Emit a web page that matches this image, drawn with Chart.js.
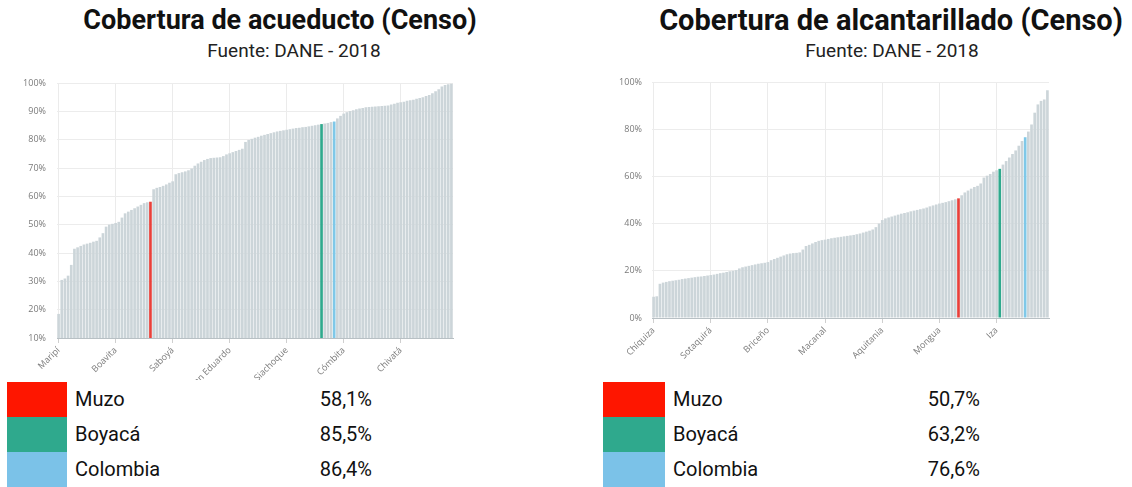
<!DOCTYPE html>
<html>
<head>
<meta charset="utf-8">
<script src="https://cdn.jsdelivr.net/npm/chart.js@4"></script>
<style>
    body { margin: 0; background: #fff; font-family: Roboto, "Noto Sans", sans-serif; width: 1132px; height: 487px; overflow: hidden; position: relative; }
    .title { position: absolute; top: 4px; font-size: 27px; font-weight: bold; color: #111; white-space: nowrap; transform: translateX(-50%); }
    .sub { position: absolute; top: 39px; font-size: 19px; color: #222; white-space: nowrap; transform: translateX(-50%); }
    canvas { position: absolute; }
    .legend { position: absolute; top: 380px; height: 107px; background: #fff; z-index: 2; }
    .sw { position: absolute; height: 35px; }
    .name, .val { position: absolute; height: 35px; line-height: 35px; font-size: 20px; color: #111; white-space: nowrap; }
    .val { text-align: right; }
</style>
</head>
<body>
<div class="title" style="left:280px">Cobertura de acueducto (Censo)</div>
<div class="sub" style="left:294px">Fuente: DANE - 2018</div>
<div class="title" style="left:891px;font-size:29px;top:3px">Cobertura de alcantarillado (Censo)</div>
<div class="sub" style="left:892px">Fuente: DANE - 2018</div>

<canvas id="acu-chart" width="470" height="330" style="left:0px;top:60px"></canvas>
<canvas id="alc-chart" width="480" height="330" style="left:590px;top:60px"></canvas>

<div class="legend" id="acu-legend" style="left:0px;width:560px"></div>
<div class="legend" id="alc-legend" style="left:590px;width:542px"></div>

<script>
// municipios de Boyacá ordenados por cobertura (+ Boyacá y Colombia)
const acuValues = [
    18.5, 30.5, 31, 32, 35.8, 41.5, 42, 42.5, 43, 43.3,
    43.6, 44, 44.3, 45.5, 47, 49.3, 50, 50.3, 50.6, 51,
    52.5, 54, 54.6, 55.2, 55.8, 56.4, 57, 57.6, 57.9, 58.1,
    62.5, 63, 63.3, 63.7, 64.2, 64.8, 65.3, 67.8, 68.2, 68.5,
    68.8, 69.2, 69.8, 70.8, 71.6, 72.2, 72.8, 73.2, 73.5, 73.6,
    73.7, 73.8, 74.2, 74.8, 75.2, 75.6, 76, 76.4, 76.8, 79.2,
    79.9, 80.3, 80.7, 81, 81.4, 81.7, 82, 82.3, 82.6, 82.9,
    83.1, 83.3, 83.5, 83.7, 83.9, 84.1, 84.2, 84.4, 84.5, 84.7,
    84.9, 85.1, 85.3, 85.5, 85.7, 85.9, 86.2, 86.4, 87.5, 88.4,
    89.2, 89.7, 90.1, 90.4, 90.7, 91, 91.2, 91.4, 91.5, 91.6,
    91.7, 91.8, 91.9, 92, 92.1, 92.4, 92.7, 93, 93.2, 93.4,
    93.7, 93.9, 94.1, 94.4, 94.7, 95, 95.4, 95.8, 96.4, 97.1,
    97.8, 98.8, 99.3, 99.6, 99.7
];
const alcValues = [
    9, 9.2, 14.5, 15, 15.3, 15.6, 15.8, 16, 16.2, 16.5,
    16.7, 16.9, 17.1, 17.3, 17.5, 17.6, 17.8, 18, 18.2, 18.4,
    18.7, 19, 19.2, 19.5, 19.8, 20, 20.3, 21, 21.5, 21.8,
    22.1, 22.4, 22.7, 23, 23.2, 23.4, 23.7, 24.5, 25, 25.5,
    26, 26.5, 27, 27.3, 27.5, 27.6, 27.8, 29, 30.5, 31,
    31.6, 32.2, 32.7, 33, 33.2, 33.5, 33.8, 34, 34.2, 34.4,
    34.6, 34.8, 35, 35.2, 35.5, 35.8, 36.2, 36.6, 37, 37.5,
    38.5, 40, 41.5, 42.2, 42.6, 43, 43.4, 43.8, 44.2, 44.5,
    44.8, 45.2, 45.5, 45.8, 46.1, 46.4, 46.8, 47.3, 47.7, 48.1,
    48.5, 48.8, 49.1, 49.5, 49.9, 50.3, 50.7, 52, 53.2, 54,
    54.8, 55.5, 56, 57, 59.5, 60.3, 61, 62, 62.6, 63.2,
    65, 66.5, 68, 69.5, 71, 73, 75, 76.6, 79, 82,
    87, 90.5, 92, 92.6, 96.5
];

const acuTickNames = ["Maripí", "Boavita", "Saboyá", "San Eduardo", "Siachoque", "Cómbita", "Chivatá"];
const alcTickNames = ["Chíquiza", "Sotaquirá", "Briceño", "Macanal", "Aquitania", "Mongua", "Iza"];
const tickEvery = 18;

const legendNames = ["Muzo", "Boyacá", "Colombia"];
const acuLegendValues = [58.1, 85.5, 86.4];
const alcLegendValues = [50.7, 63.2, 76.6];
const legendColors = ["#fe1600", "#2fa98d", "#7bc2e8"];
const barHighlightColors = ["#e8403a", "#2fa98d", "#7fc8e8"];

// posición de Muzo / Boyacá / Colombia dentro del orden
const acuHighlight = [29, 83, 87];
const alcHighlight = [96, 109, 117];

const barGray = "#ccd5d9";

function makeChart(id, values, tickNames, highlight, yMin, yMax, yStep, layout) {
    const labels = values.map((v, i) => i % tickEvery === 0 ? tickNames[i / tickEvery] : "");
    const ctx = document.getElementById(id).getContext("2d");
    return new Chart(ctx, {
        type: "bar",
        data: {
            labels: labels,
            datasets: [{
                data: values,
                backgroundColor: c => {
                    const k = highlight.indexOf(c.dataIndex);
                    return k >= 0 ? barHighlightColors[k] : barGray;
                },
                barPercentage: 1,
                categoryPercentage: 0.84
            }]
        },
        options: {
            responsive: false,
            animation: false,
            devicePixelRatio: 1,
            layout: { padding: layout.padding },
            plugins: { legend: { display: false }, tooltip: { enabled: false } },
            scales: {
                x: {
                    offset: true,
                    afterFit: s => { s.height = layout.xHeight; },
                    afterBuildTicks: s => { s.ticks = s.ticks.filter(t => labels[t.value] !== ""); },
                    grid: { color: "#ebebeb", offset: false, tickLength: 5, tickColor: "#cfcfcf" },
                    border: { color: "#b8c0c4" },
                    ticks: {
                        autoSkip: false,
                        maxRotation: 45,
                        minRotation: 45,
                        padding: 2,
                        color: "#7a7a7a",
                        font: { family: "Open Sans", size: 9 }
                    }
                },
                y: {
                    min: yMin,
                    max: yMax,
                    afterFit: s => { s.width = layout.yWidth; },
                    grid: { color: "#ececec", drawTicks: false },
                    border: { display: false },
                    ticks: {
                        stepSize: yStep,
                        padding: layout.yPad,
                        color: "#7a7a7a",
                        font: { family: "Open Sans", size: 9 },
                        callback: v => v + "%"
                    }
                }
            }
        }
    });
}

function fmt(v) {
    return v.toFixed(1).replace(".", ",") + "%";
}

function buildLegend(id, values, swLeft, swWidth, nameLeft, valRight) {
    const box = document.getElementById(id);
    legendNames.forEach((name, i) => {
        const top = 2 + i * 35;
        box.innerHTML += `
            <div class="sw" style="left:${swLeft}px;top:${top}px;width:${swWidth}px;background:${legendColors[i]}"></div>
            <div class="name" style="left:${nameLeft}px;top:${top}px">${name}</div>
            <div class="val" style="left:${valRight - 100}px;top:${top}px;width:100px">${fmt(values[i])}</div>`;
    });
}

makeChart("acu-chart", acuValues, acuTickNames, acuHighlight, 10, 100, 10,
    { padding: { top: 23, right: 17, left: 0, bottom: 0 }, yWidth: 57, xHeight: 52, yPad: 11 });
makeChart("alc-chart", alcValues, alcTickNames, alcHighlight, 0, 100, 20,
    { padding: { top: 22, right: 21, left: 0, bottom: 0 }, yWidth: 62, xHeight: 72, yPad: 10 });

buildLegend("acu-legend", acuLegendValues, 7, 60, 75, 372);
buildLegend("alc-legend", alcLegendValues, 13, 62, 83, 390);
</script>
</body>
</html>
